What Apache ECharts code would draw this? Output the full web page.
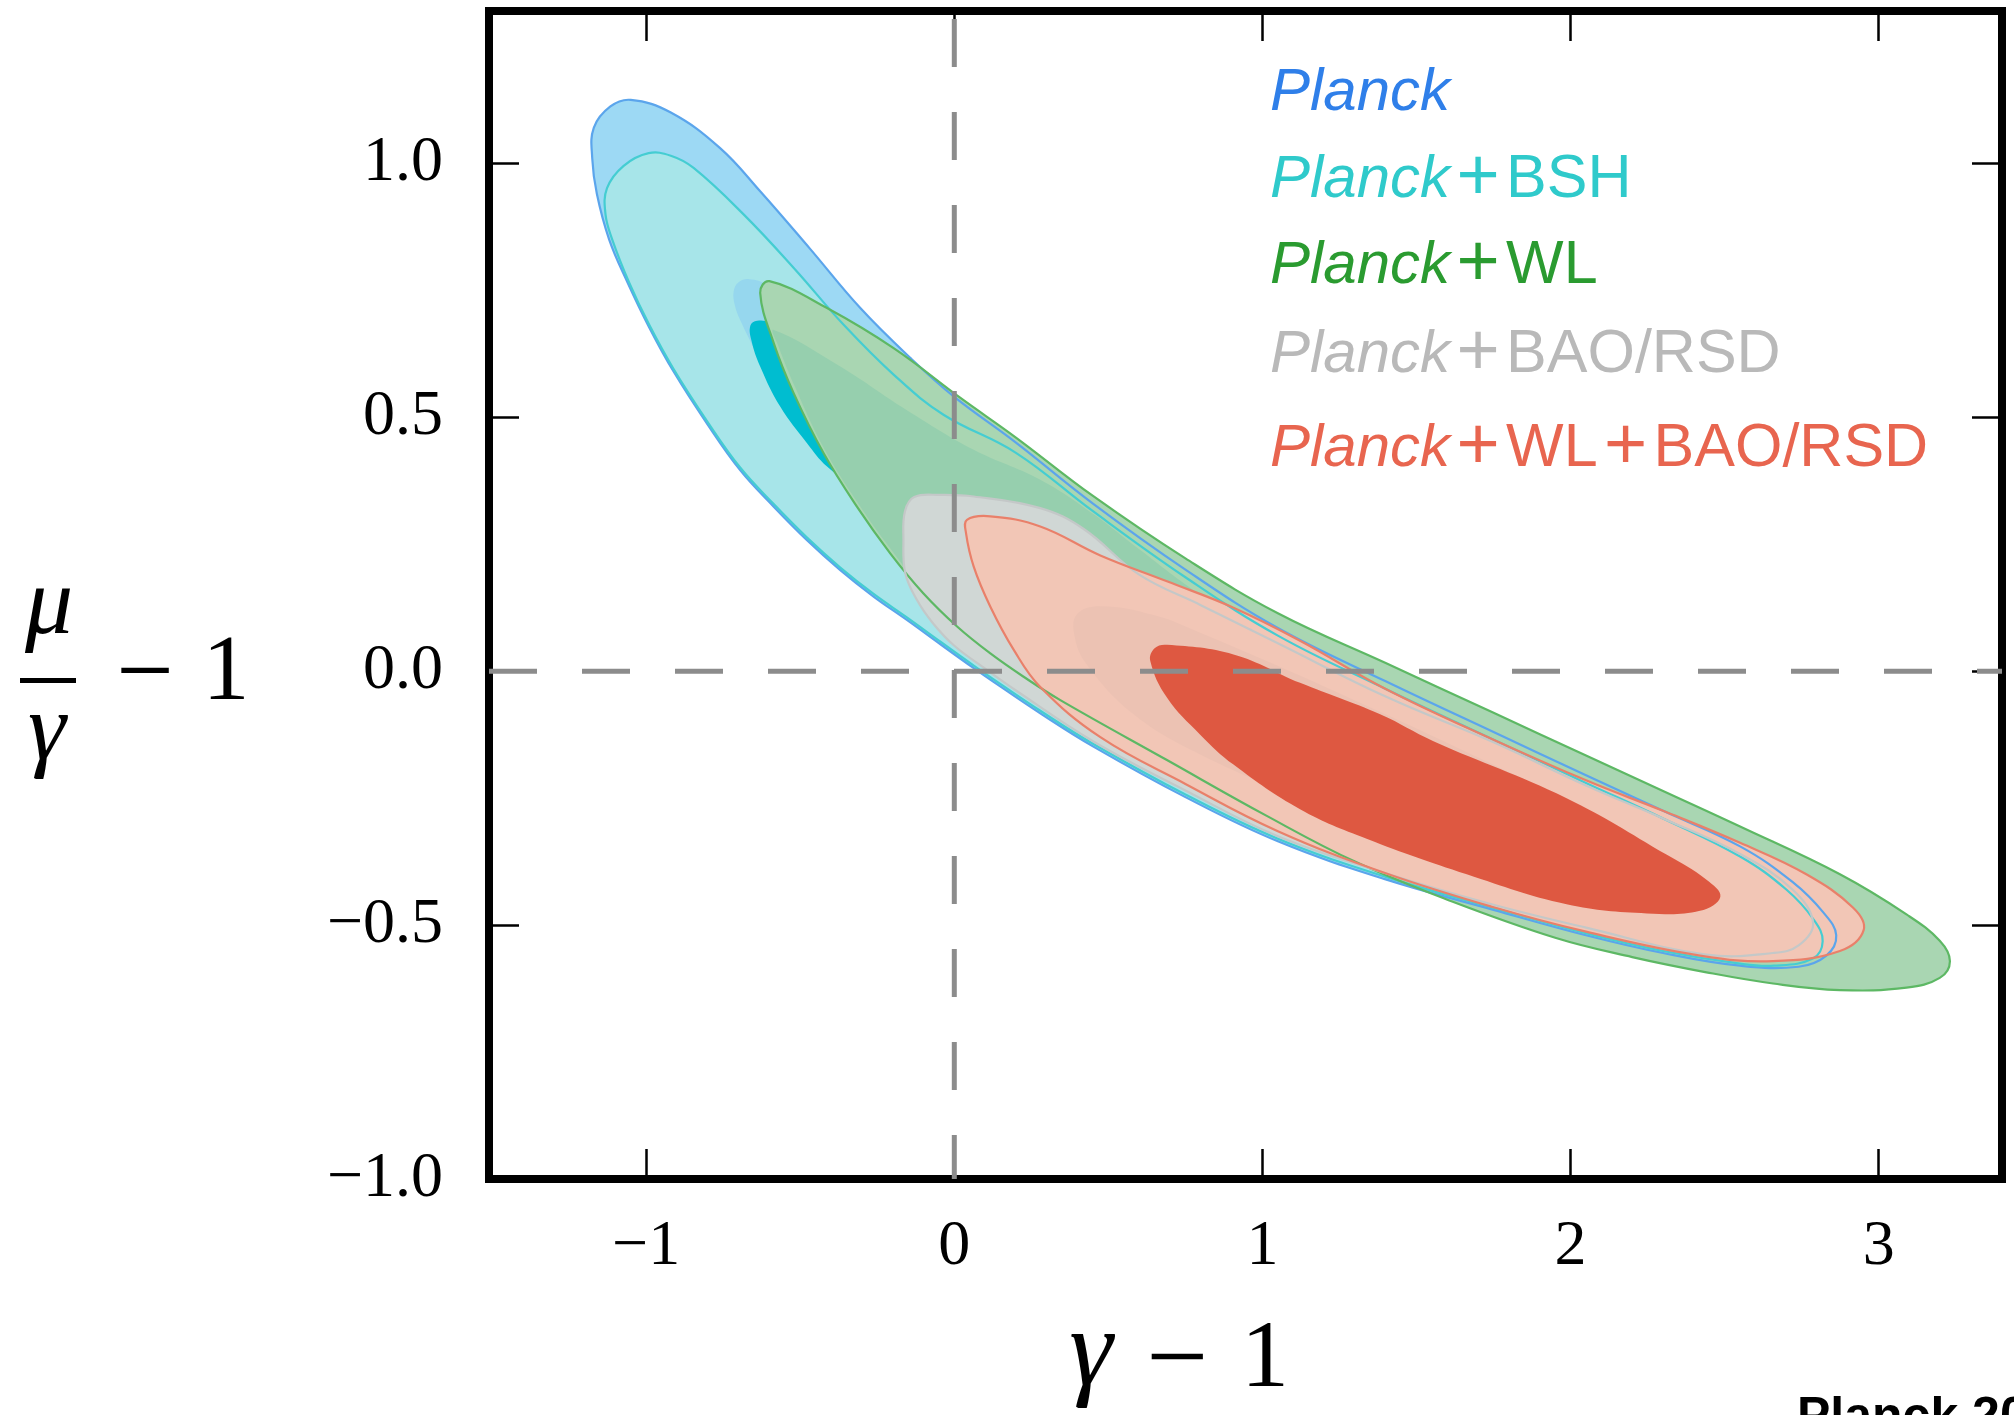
<!DOCTYPE html>
<html>
<head>
<meta charset="utf-8">
<script src="https://cdn.jsdelivr.net/npm/echarts@6/dist/echarts.min.js"></script>
<style>
  html, body { margin: 0; padding: 0; background: #fff; }
  #main { width: 2014px; height: 1415px; }
</style>
</head>
<body>
<div id="main"></div>
<script>
// axis ticks
const xTicks = [-1, 0, 1, 2, 3];
const yTicks = [-1.0, -0.5, 0.0, 0.5, 1.0];

// contour boundaries [gamma-1, mu/gamma-1]
const planckOuter = [
  [-1.05, 1.125], [-0.92, 1.10], [-0.76, 1.03], [-0.63, 0.945], [-0.47, 0.833], [-0.305, 0.715],
  [-0.143, 0.617], [0.0, 0.54], [0.2, 0.45], [0.45, 0.33], [0.75, 0.20], [1.05, 0.085], [1.4, -0.02],
  [1.75, -0.12], [2.05, -0.205], [2.3, -0.275], [2.55, -0.345], [2.72, -0.415], [2.82, -0.475],
  [2.862, -0.52], [2.83, -0.56], [2.74, -0.582], [2.55, -0.58], [2.3, -0.555], [2.05, -0.52],
  [1.75, -0.47], [1.4, -0.41], [1.05, -0.335], [0.75, -0.248], [0.45, -0.148], [0.279, -0.083],
  [0.149, -0.03], [0.063, 0.006], [-0.045, 0.053], [-0.154, 0.101], [-0.262, 0.147], [-0.37, 0.199],
  [-0.478, 0.258], [-0.586, 0.324], [-0.695, 0.396], [-0.803, 0.488], [-0.911, 0.59], [-0.99, 0.677],
  [-1.06, 0.765], [-1.12, 0.85], [-1.16, 0.94], [-1.175, 1.01], [-1.17, 1.07], [-1.116, 1.112]
];
const planckInner = [
  [-0.716, 0.748], [-0.70, 0.766], [-0.665, 0.772], [-0.61, 0.76], [-0.4, 0.63], [0.0, 0.40],
  [0.6, 0.13], [1.2, -0.07], [1.7, -0.21], [1.85, -0.27], [1.65, -0.29], [1.0, -0.14], [0.3, 0.08],
  [-0.15, 0.28], [-0.38, 0.40], [-0.47, 0.455], [-0.555, 0.525], [-0.62, 0.60], [-0.69, 0.685],
  [-0.712, 0.72]
];
const bshOuter = [
  [-0.992, 1.02], [-0.92, 1.015], [-0.846, 0.991], [-0.683, 0.899], [-0.521, 0.794], [-0.359, 0.682],
  [-0.197, 0.584], [-0.035, 0.505], [0.2, 0.43], [0.45, 0.315], [0.75, 0.185], [1.05, 0.07],
  [1.4, -0.035], [1.75, -0.135], [2.05, -0.22], [2.3, -0.29], [2.55, -0.365], [2.70, -0.43],
  [2.79, -0.49], [2.818, -0.532], [2.786, -0.566], [2.66, -0.58], [2.55, -0.576], [2.3, -0.551],
  [2.05, -0.516], [1.75, -0.466], [1.4, -0.405], [1.05, -0.33], [0.75, -0.243], [0.45, -0.143],
  [0.279, -0.078], [0.149, -0.025], [0.063, 0.011], [-0.045, 0.058], [-0.154, 0.106], [-0.262, 0.152],
  [-0.37, 0.204], [-0.478, 0.263], [-0.586, 0.329], [-0.695, 0.401], [-0.803, 0.493], [-0.911, 0.595],
  [-0.99, 0.682], [-1.055, 0.765], [-1.11, 0.85], [-1.132, 0.9], [-1.127, 0.951], [-1.073, 0.995]
];
const bshInner = [
  [-0.662, 0.68], [-0.64, 0.69], [-0.60, 0.685], [-0.3, 0.52], [0.2, 0.28], [0.8, 0.05], [1.4, -0.15],
  [1.8, -0.28], [1.9, -0.33], [1.7, -0.33], [1.1, -0.17], [0.4, 0.04], [-0.1, 0.24], [-0.28, 0.34],
  [-0.413, 0.403], [-0.478, 0.449], [-0.565, 0.521], [-0.63, 0.60], [-0.658, 0.65]
];
const wlOuter = [
  [-0.60, 0.768], [-0.413, 0.715], [-0.197, 0.636], [0.02, 0.538], [0.2, 0.46], [0.45, 0.345],
  [0.75, 0.222], [1.05, 0.114], [1.4, 0.016], [1.75, -0.082], [2.05, -0.166], [2.3, -0.236],
  [2.55, -0.306], [2.874, -0.40], [3.09, -0.479], [3.198, -0.531], [3.231, -0.571], [3.198, -0.604],
  [3.09, -0.623], [2.874, -0.628], [2.657, -0.615], [2.441, -0.593], [2.2, -0.563], [1.95, -0.525],
  [1.6, -0.45], [1.3, -0.375], [1.014, -0.285], [0.69, -0.175], [0.344, -0.057], [0.225, -0.011],
  [0.117, 0.035], [0.009, 0.088], [-0.1, 0.153], [-0.208, 0.232], [-0.316, 0.324], [-0.424, 0.429],
  [-0.521, 0.547], [-0.586, 0.646], [-0.63, 0.745]
];
const wlInner = [
  [-0.586, 0.672], [-0.37, 0.60], [-0.154, 0.514], [0.063, 0.436], [0.279, 0.377], [0.45, 0.31],
  [0.6, 0.24], [0.8, 0.15], [1.1, 0.04], [1.5, -0.09], [2.0, -0.23], [2.3, -0.31], [2.45, -0.38],
  [2.3, -0.46], [1.5, -0.36], [0.8, -0.16], [0.3, 0.0], [0.1, 0.065], [-0.1, 0.163], [-0.208, 0.242],
  [-0.316, 0.334], [-0.424, 0.44], [-0.515, 0.557], [-0.572, 0.642]
];
const baoOuter = [
  [-0.13, 0.343], [-0.045, 0.347], [0.063, 0.344], [0.279, 0.321], [0.42, 0.28], [0.6, 0.19],
  [0.8, 0.13], [1.05, 0.055], [1.4, -0.05], [1.75, -0.14], [2.05, -0.225], [2.3, -0.29], [2.55, -0.36],
  [2.72, -0.43], [2.787, -0.495], [2.74, -0.54], [2.657, -0.555], [2.44, -0.558], [2.05, -0.505],
  [1.75, -0.46], [1.4, -0.398], [1.05, -0.325], [0.75, -0.235], [0.45, -0.138], [0.2, -0.038],
  [0.1, 0.005], [0.0, 0.05], [-0.07, 0.095], [-0.121, 0.14], [-0.159, 0.193], [-0.165, 0.26],
  [-0.16, 0.315]
];
const baoInner = [
  [0.398, 0.112], [0.474, 0.128], [0.65, 0.11], [0.8, 0.075], [1.2, -0.03], [1.7, -0.17], [2.1, -0.29],
  [2.3, -0.37], [2.32, -0.42], [2.1, -0.43], [1.6, -0.36], [1.122, -0.249], [0.798, -0.164],
  [0.582, -0.085], [0.43, 0.013], [0.39, 0.07]
];
const allOuter = [
  [0.041, 0.298], [0.117, 0.305], [0.279, 0.285], [0.474, 0.228], [0.69, 0.177], [0.906, 0.125],
  [1.122, 0.06], [1.4, -0.035], [1.75, -0.135], [2.05, -0.215], [2.3, -0.275], [2.55, -0.338],
  [2.765, -0.40], [2.917, -0.466], [2.951, -0.51], [2.874, -0.551], [2.657, -0.571], [2.42, -0.56],
  [2.05, -0.513], [1.75, -0.465], [1.4, -0.398], [1.05, -0.315], [0.75, -0.222], [0.474, -0.13],
  [0.279, -0.031], [0.193, 0.042], [0.117, 0.127], [0.063, 0.206], [0.038, 0.272]
];
const allInner = [
  [0.69, 0.052], [0.906, 0.033], [1.122, -0.023], [1.382, -0.085], [1.555, -0.138], [1.987, -0.25],
  [2.311, -0.361], [2.44, -0.41], [2.486, -0.444], [2.42, -0.472], [2.248, -0.477], [1.987, -0.459],
  [1.663, -0.40], [1.338, -0.33], [1.122, -0.272], [0.906, -0.184], [0.798, -0.125], [0.69, -0.052],
  [0.636, 0.02], [0.65, 0.045]
];

// reference lines
const vLine = [[0, 1.3], [0, -1.0]];
const hLine = [[-1.51, 0], [3.4, 0]];

// legend
const legendNames = ['', 'BSH', 'WL', 'BAO/RSD', 'WL+BAO/RSD'];
const legendColors = ['#2f7fe9', '#2fcacb', '#2a9b30', '#b9b9b9', '#e8654f'];

const chart = echarts.init(document.getElementById('main'));

function fillSeries(pts, fill, z) {
  return {
    type: 'custom', z: z, silent: true, clip: true,
    data: pts,
    renderItem(params, api) {
      if (params.dataIndex !== 0) return null;
      return {
        type: 'polygon',
        shape: { points: pts.map(p => api.coord(p)), smooth: 0.4 },
        style: { fill: fill, stroke: null }
      };
    }
  };
}
function lineSeries(pts, stroke, z) {
  return {
    type: 'custom', z: z, silent: true, clip: true,
    data: pts,
    renderItem(params, api) {
      if (params.dataIndex !== 0) return null;
      return {
        type: 'polygon',
        shape: { points: pts.map(p => api.coord(p)), smooth: 0.4 },
        style: { fill: null, stroke: stroke, lineWidth: 2.2 }
      };
    }
  };
}
function refLine(pts, offset) {
  return {
    type: 'line', data: pts, z: 30, symbol: 'none', silent: true,
    lineStyle: { color: '#8c8c8c', width: 5, type: [48, 45], dashOffset: offset }
  };
}

const serifFont = 'Liberation Serif';
const fmt = v => (v < 0 ? '\u2212' : '') + Math.abs(v);
const tickStyle = { color: '#000', width: 2.5 };

const legendText = legendNames.map((n, i) => {
  let t = '{i|Planck}';
  n.split('+').forEach(part => { if (part) t += '{p|+}{n|' + part + '}'; });
  const c = legendColors[i];
  return {
    type: 'text', x: 1270, y: [93, 180, 266, 355, 449][i], z: 50,
    style: {
      text: t, fill: c, textVerticalAlign: 'middle',
      rich: {
        i: { fontFamily: 'Liberation Sans', fontStyle: 'italic', fontSize: 60, fill: c, lineHeight: 70 },
        p: { fontFamily: 'Liberation Sans', fontSize: 74, width: 56, align: 'center', fill: c, lineHeight: 70 },
        n: { fontFamily: 'Liberation Sans', fontSize: 61, fill: c, lineHeight: 70 }
      }
    }
  };
});

function mathText(str, x, y, size, italic) {
  return {
    type: 'text', x: x, y: y, z: 50,
    style: {
      text: str, font: (italic ? 'italic ' : '') + size + 'px "Liberation Serif"',
      fill: '#000', textAlign: 'center', textVerticalAlign: 'middle'
    }
  };
}

const option = {
  backgroundColor: '#fff',
  animation: false,
  grid: {
    left: 489, top: 11, width: 1513, height: 1168,
    show: true, borderColor: '#000', borderWidth: 8, backgroundColor: 'transparent'
  },
  xAxis: [{
    type: 'value', min: -1.51, max: 3.4, position: 'bottom',
    axisLine: { show: false, onZero: false }, splitLine: { show: false },
    axisTick: { show: true, inside: true, length: 30, customValues: xTicks, lineStyle: tickStyle },
    axisLabel: { customValues: xTicks, formatter: fmt, margin: 36, fontSize: 64, fontFamily: serifFont, color: '#000' }
  }, {
    type: 'value', min: -1.51, max: 3.4, position: 'top',
    axisLine: { show: false, onZero: false }, splitLine: { show: false },
    axisTick: { show: true, inside: true, length: 30, customValues: xTicks, lineStyle: tickStyle },
    axisLabel: { show: false }
  }],
  yAxis: [{
    type: 'value', min: -1.0, max: 1.3, position: 'left',
    axisLine: { show: false, onZero: false }, splitLine: { show: false },
    axisTick: { show: true, inside: true, length: 30, customValues: yTicks, lineStyle: tickStyle },
    axisLabel: {
      customValues: yTicks, margin: 46, fontSize: 64, fontFamily: serifFont, color: '#000',
      formatter: v => (v < 0 ? '\u2212' : '') + Math.abs(v).toFixed(1)
    }
  }, {
    type: 'value', min: -1.0, max: 1.3, position: 'right',
    axisLine: { show: false, onZero: false }, splitLine: { show: false },
    axisTick: { show: true, inside: true, length: 30, customValues: yTicks, lineStyle: tickStyle },
    axisLabel: { show: false }
  }],
  series: [
    fillSeries(planckOuter, '#9dd9f4', 2),
    fillSeries(bshOuter, '#a7e5e9', 3),
    fillSeries(planckInner, '#96d7ee', 4),
    fillSeries(bshInner, '#00bdd0', 5),
    fillSeries(wlOuter, '#a9d6b2', 6),
    fillSeries(wlInner, '#96cfae', 7),
    fillSeries(baoOuter, '#d0d7d5', 8),
    fillSeries(allOuter, '#f2c6b6', 9),
    fillSeries(baoInner, '#ecc2b3', 10),
    fillSeries(allInner, '#de5841', 11),
    lineSeries(planckOuter, '#5ba5ec', 12),
    lineSeries(bshOuter, '#45cdd2', 12),
    lineSeries(wlOuter, '#5db864', 12),
    lineSeries(baoOuter, '#c4c8c8', 12),
    lineSeries(allOuter, '#e9806a', 12),
    refLine(vLine, -8),
    refLine(hLine, 0)
  ],
  graphic: [
    // y axis title: mu / gamma - 1
    mathText('\u03bc', 49, 608, 96, true),
    { type: 'rect', z: 50, shape: { x: 20, y: 678, width: 56, height: 5 }, style: { fill: '#000' } },
    mathText('\u03b3', 47, 734, 96, true),
    mathText('\u2212', 145, 677, 102, false),
    mathText('1', 226, 674, 94, false),
    // x axis title: gamma - 1
    mathText('\u03b3', 1091, 1356, 110, true),
    mathText('\u2212', 1177, 1364, 110, false),
    mathText('1', 1265, 1361, 96, false),
    // footer, cut by the page edge
    { type: 'text', x: 1797, y: 1418, z: 50, style: { text: 'Planck 2015', font: 'bold 50px "Liberation Sans"', fill: '#000', textAlign: 'left', textVerticalAlign: 'middle' } }
  ].concat(legendText)
};

chart.setOption(option);
</script>
</body>
</html>
